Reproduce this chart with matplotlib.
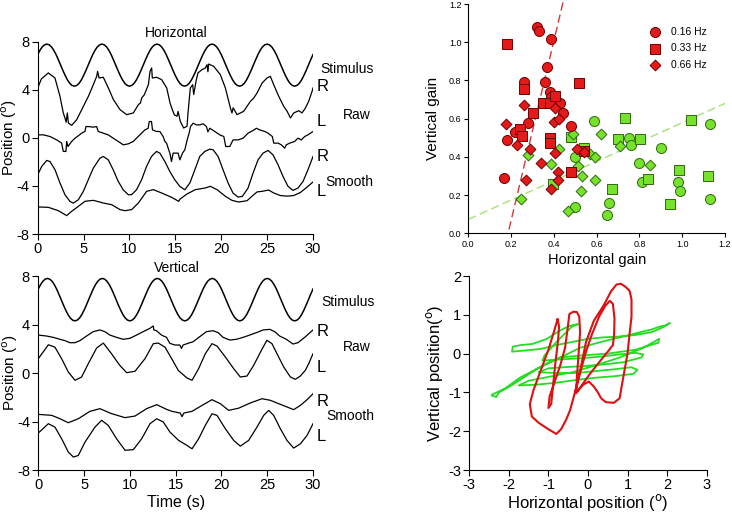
import numpy as np
import matplotlib
matplotlib.use("Agg")
import matplotlib.pyplot as plt

plt.rcParams['font.family'] = ['Liberation Sans', 'DejaVu Sans']
plt.rcParams['axes.unicode_minus'] = False

# ---- stimulus (same target in both panels), read every 0.25 s
stim_t = np.arange(121) * 0.25
stim_v = [6.93, 7.29, 7.57, 7.74, 7.80, 7.74, 7.57, 7.29, 6.93, 6.50, 6.05, 5.60, 5.18, 4.81, 4.53, 4.36, 4.30, 4.36, 4.53, 4.81, 5.18, 5.60, 6.05, 6.50,
          6.93, 7.29, 7.57, 7.74, 7.80, 7.74, 7.57, 7.29, 6.93, 6.50, 6.05, 5.60, 5.18, 4.81, 4.53, 4.36, 4.30, 4.36, 4.53, 4.81, 5.18, 5.60, 6.05, 6.50,
          6.93, 7.29, 7.57, 7.74, 7.80, 7.74, 7.57, 7.29, 6.93, 6.50, 6.05, 5.60, 5.18, 4.81, 4.53, 4.36, 4.30, 4.36, 4.53, 4.81, 5.18, 5.60, 6.05, 6.50,
          6.93, 7.29, 7.57, 7.74, 7.80, 7.74, 7.57, 7.29, 6.93, 6.50, 6.05, 5.60, 5.18, 4.81, 4.53, 4.36, 4.30, 4.36, 4.53, 4.81, 5.18, 5.60, 6.05, 6.50,
          6.93, 7.29, 7.57, 7.74, 7.80, 7.74, 7.57, 7.29, 6.93, 6.50, 6.05, 5.60, 5.18, 4.81, 4.53, 4.36, 4.30, 4.36, 4.53, 4.81, 5.18, 5.60, 6.05, 6.50,
          6.93]

# ---- horizontal eye position traces (offset for display)
h_raw_r_t = [0, 0.4, 1.16, 1.88, 2.43, 2.79, 2.97, 3.1, 3.23, 3.34, 3.7, 4.25, 4.8, 5.16, 5.52, 6.06, 6.43, 6.53, 6.68, 7.15,
             7.7, 8.25, 8.97, 9.69, 10.42, 10.97, 11.2, 11.33, 11.62, 12.06, 12.24, 12.42, 12.49, 12.97, 13.51, 14.06, 14.42, 14.67,
             14.9, 15.18, 15.3, 15.54, 15.9, 16.27, 16.38, 16.63, 16.89, 17.0, 17.25, 17.46, 17.9, 18.27, 18.45, 18.55, 18.63, 19.18,
             19.9, 20.45, 21.0, 21.17, 21.3, 21.72, 22.45, 23.18, 23.54, 23.9, 24.45, 24.99, 25.35, 25.72, 26.27, 26.81, 27.18,
             27.54, 27.9, 28.44, 28.8, 29.17, 29.53, 29.9, 30.0]
h_raw_r_v = [4.15, 4.9, 5.40, 4.98, 3.45, 2.07, 1.65, 1.3, 2.07, 1.24, 1.04, 1.51, 2.35, 2.90, 3.45, 4.42, 5.12, 5.53, 4.98, 5.04,
             4.15, 3.18, 2.35, 1.93, 2.07, 2.76, 2.9, 3.31, 3.59, 4.42, 5.53, 5.81, 4.98, 5.04, 4.84, 4.15, 2.90, 2.35,
             1.9, 1.8, 2.2, 1.37, 0.82, 0.96, 2.07, 4.15, 4.42, 3.6, 4.70, 5.40, 5.67, 5.81, 6.09, 5.5, 6.14, 5.95,
             5.26, 4.15, 2.48, 2.07, 2.5, 1.93, 2.21, 3.04, 3.31, 3.73, 4.56, 4.98, 5.12, 4.42, 3.45, 2.62, 2.21,
             1.65, 2.07, 2.26, 2.07, 2.48, 3.04, 3.87, 4.15]

h_raw_l_t = [0, 0.62, 1.34, 2.07, 2.61, 2.79, 3.08, 3.16, 3.3, 3.7, 4.06, 4.43, 4.79, 5.15, 5.26, 5.51, 6.06, 6.42, 6.6, 7.15,
             7.69, 8.23, 8.78, 9.32, 9.87, 10.41, 10.95, 11.32, 11.68, 12.04, 12.15, 12.4, 12.51, 12.95, 13.31, 13.67, 13.86,
             14.04, 14.22, 14.4, 14.58, 14.76, 15.3, 15.49, 15.78, 16.03, 16.29, 16.5, 16.65, 16.94, 17.3, 17.66, 18.03, 18.39,
             18.55, 18.75, 19.3, 19.84, 20.28, 20.49, 20.93, 21.29, 21.84, 22.38, 22.92, 23.47, 23.83, 24.19, 24.74, 25.1, 25.57,
             25.72, 26.19, 26.55, 26.91, 27.09, 27.46, 28.0, 28.36, 28.73, 29.09, 29.45, 30.0]
h_raw_l_v = [0.25, 0.25, 0.11, -0.17, -0.44, -1.13, -1.13, -0.3, -0.72, -0.3, -0.03, 0.17, 0.39, 0.53, 0.94, 0.94, 0.89, 0.94, 0.53, 0.39,
             0.25, -0.03, -0.3, -0.58, -0.5, -0.3, 0.11, 0.39, 0.66, 0.8, 1.36, 1.36, 0.66, 0.53, 0.53, 0.11, -0.3,
             -0.44, -0.86, -1.27, -1.97, -1.27, -1.27, -1.83, -1.27, -1.0, -0.17, 0.39, 0.94, 1.22, 1.08, 1.08, 1.17, 0.94,
             0.5, 0.8, 0.53, 0.25, 0.11, -0.72, -0.72, -0.17, -0.17, -0.03, 0.39, 0.61, 0.8, 0.66, 0.53, 0.39, 0.11,
             -0.44, -0.44, -0.58, -0.86, -0.58, -0.44, -0.3, -0.03, -0.17, 0.11, 0.25, 0.53]

h_sm_r_t = [0, 0.44, 0.98, 1.34, 1.89, 2.43, 2.97, 3.52, 3.88, 4.43, 4.97, 5.51, 6.06, 6.78, 7.15, 7.69, 8.23, 8.78, 9.32, 9.87,
            10.23, 10.77, 11.32, 11.86, 12.4, 12.95, 13.31, 13.86, 14.4, 14.94, 15.49, 16.03, 16.58, 17.12, 17.66, 18.21, 18.75,
            19.12, 19.66, 20.2, 20.75, 21.29, 21.84, 22.3, 22.92, 23.47, 24.01, 24.56, 25.1, 25.64, 26.19, 26.73, 27.28, 27.82,
            28.36, 28.91, 29.45, 30.0]
h_sm_r_v = [-3.07, -2.38, -1.88, -1.97, -2.66, -3.76, -4.73, -5.29, -5.43, -5.15, -4.46, -3.49, -2.52, -1.69, -1.55, -1.83, -2.66, -3.63, -4.32, -4.73,
            -4.73, -4.32, -3.49, -2.38, -1.55, -1.13, -1.27, -1.97, -2.8, -3.49, -4.04, -4.32, -3.76, -2.66, -1.55, -1.13, -0.94,
            -1.0, -1.55, -2.66, -3.76, -4.6, -4.93, -4.87, -4.18, -2.93, -1.83, -1.27, -1.05, -1.41, -2.24, -3.21, -4.04, -4.37,
            -4.18, -3.63, -2.66, -1.55]

h_sm_l_t = [0, 1.16, 2.25, 3.16, 3.7, 4.43, 5.15, 6.06, 7.15, 8.06, 8.97, 9.52, 10.24, 10.97, 11.87, 12.6, 13.51, 14.6, 15.36, 15.5,
            16.27, 17.18, 18.27, 18.81, 19.54, 20.45, 21.17, 21.9, 22.81, 23.35, 23.9, 24.44, 25.17, 25.72, 26.44, 27.17, 27.9,
            28.62, 29.35, 30.0]
h_sm_l_v = [-5.75, -5.78, -6.06, -6.47, -6.11, -5.70, -5.28, -5.20, -5.42, -5.56, -5.97, -6.06, -5.97, -5.42, -4.45, -4.31, -4.59, -4.95, -5.28, -5.1,
            -4.67, -4.31, -4.17, -4.03, -4.31, -4.86, -5.20, -5.34, -5.23, -4.86, -4.50, -4.45, -4.34, -4.59, -4.80, -4.85, -4.80,
            -4.55, -4.10, -3.67]

# ---- vertical eye position traces
v_raw_r_t = [0, 0.91, 1.64, 2.36, 2.91, 3.45, 4.0, 4.55, 5.27, 6.0, 6.73, 7.27, 7.82, 8.55, 9.27, 10.0, 10.73, 11.45, 12.18, 12.55,
             12.62, 12.91, 13.45, 14.0, 14.36, 14.91, 15.45, 15.64, 15.82, 16.36, 16.91, 17.64, 18.36, 19.09, 19.64, 20.18, 20.91,
             21.64, 22.36, 23.09, 23.82, 24.55, 25.27, 25.82, 26.36, 27.09, 27.82, 28.36, 29.09, 30.0]
v_raw_r_v = [3.13, 3.05, 2.94, 2.78, 2.67, 2.5, 2.5, 2.67, 3.05, 3.41, 3.55, 3.41, 3.13, 2.94, 2.78, 2.86, 3.13, 3.41, 3.68, 3.88,
             3.55, 3.49, 3.13, 2.94, 2.45, 2.31, 2.31, 2.03, 2.31, 2.45, 2.58, 3.0, 3.41, 3.49, 3.33, 2.94, 2.72,
             2.78, 2.94, 3.13, 3.33, 3.55, 3.6, 3.41, 3.05, 2.78, 2.39, 2.5, 2.94, 3.55]

v_raw_l_t = [0, 1.1, 1.82, 2.55, 3.28, 4.01, 4.73, 5.46, 6.37, 7.1, 8.0, 8.9, 9.65, 10.56, 11.65, 12.56, 13.1, 13.84, 14.57, 15.3,
             16.24, 16.79, 17.51, 18.24, 18.97, 19.52, 20.43, 21.34, 22.06, 22.79, 23.52, 24.36, 24.97, 25.52, 26.07, 26.8, 27.53,
             28.07, 28.62, 29.16, 29.53, 30.0]
v_raw_l_v = [1.18, 2.33, 2.13, 1.18, 0.08, -0.6, -0.33, 0.77, 2.06, 2.47, 1.59, 0.63, 0.03, 0.14, 1.18, 2.42, 2.47, 2.13, 1.18, 0.2,
             -0.41, -0.6, 0.36, 1.59, 2.42, 2.22, 1.32, 0.36, -0.33, -0.25, 0.63, 1.87, 2.7, 2.42, 1.59, 0.5, -0.33,
             -0.52, -0.25, 0.22, 0.77, 1.59]

v_sm_r_t = [0, 1.46, 2.37, 3.28, 4.37, 5.64, 6.73, 8.0, 9.47, 10.56, 11.83, 12.93, 14.02, 14.6, 15.5, 15.7, 15.9, 16.79, 17.88,
            18.97, 19.88, 20.79, 21.88, 23.15, 24.43, 25.34, 26.25, 27.16, 27.89, 28.62, 29.35, 30.0]
v_sm_r_v = [-3.41, -3.49, -3.77, -4.1, -3.77, -3.16, -2.94, -3.35, -3.68, -3.55, -2.94, -2.61, -3.0, -3.16, -3.3, -3.6, -3.3, -3.16, -2.67,
            -2.2, -2.53, -3.08, -2.9, -2.47, -2.12, -2.25, -2.53, -2.8, -3.02, -2.67, -2.2, -1.71]

v_sm_l_t = [0, 1.1, 1.82, 2.55, 3.28, 3.83, 4.37, 5.1, 6.19, 6.92, 7.64, 8.55, 9.47, 10.38, 11.29, 12.2, 12.93, 13.65, 14.38, 15.33,
            16.24, 16.79, 17.51, 18.24, 18.97, 19.52, 20.43, 21.34, 22.06, 22.97, 23.88, 24.61, 25.16, 25.71, 26.44, 27.16, 27.89,
            28.62, 29.35, 30.0]
v_sm_l_v = [-4.95, -4.18, -4.46, -5.42, -6.52, -6.93, -6.8, -5.7, -4.46, -3.9, -4.32, -5.42, -6.37, -6.32, -5.42, -4.18, -3.77, -4.04, -4.87, -5.56,
            -5.97, -6.25, -5.42, -4.32, -3.36, -3.5, -4.6, -5.56, -6.03, -5.56, -4.46, -3.5, -3.08, -3.5, -4.6, -5.56, -6.19,
            -5.84, -5.15, -4.18]

# ---- gain scatter (red: vertical-dominant, green: horizontal-dominant)
red_c_x = [0.321, 0.332, 0.388, 0.368, 0.36, 0.259, 0.381, 0.388, 0.430, 0.441, 0.279, 0.220, 0.181, 0.168, 0.480]
red_c_y = [1.081, 1.059, 1.018, 0.869, 0.792, 0.790, 0.741, 0.712, 0.680, 0.628, 0.579, 0.528, 0.488, 0.291, 0.561]
red_s_x = [0.181, 0.259, 0.243, 0.251, 0.301, 0.349, 0.383, 0.404, 0.381, 0.381, 0.519, 0.480, 0.54]
red_s_y = [0.992, 0.754, 0.544, 0.509, 0.631, 0.683, 0.683, 0.720, 0.497, 0.471, 0.785, 0.322, 0.43]
red_d_x = [0.178, 0.259, 0.228, 0.290, 0.340, 0.270, 0.399, 0.423, 0.407, 0.407, 0.421, 0.421, 0.388, 0.508, 0.540]
red_d_y = [0.570, 0.670, 0.460, 0.443, 0.369, 0.279, 0.582, 0.598, 0.654, 0.419, 0.321, 0.279, 0.230, 0.443, 0.427]
grn_c_x = [0.589, 0.500, 0.500, 0.750, 0.761, 0.901, 0.800, 0.811, 0.979, 0.991, 1.130, 1.130, 0.659, 0.648]
grn_c_y = [0.589, 0.398, 0.139, 0.500, 0.460, 0.448, 0.370, 0.270, 0.270, 0.221, 0.570, 0.180, 0.157, 0.097]
grn_s_x = [0.480, 0.542, 0.733, 0.700, 0.801, 1.043, 0.842, 0.984, 1.122, 0.670, 0.943, 0.396]
grn_s_y = [0.504, 0.445, 0.602, 0.492, 0.492, 0.593, 0.283, 0.331, 0.301, 0.232, 0.152, 0.260]
grn_d_x = [0.279, 0.248, 0.388, 0.423, 0.489, 0.513, 0.532, 0.528, 0.466, 0.570, 0.594, 0.592, 0.622, 0.709, 0.849]
grn_d_y = [0.408, 0.178, 0.361, 0.441, 0.518, 0.354, 0.300, 0.221, 0.118, 0.415, 0.399, 0.279, 0.521, 0.458, 0.359]
red_fit_x = [0.19, 0.445]
red_fit_y = [0.02, 1.22]
grn_fit_x = [0.0, 1.2]
grn_fit_y = [0.073, 0.68]
freq_labels = ['0.16 Hz', '0.33 Hz', '0.66 Hz']

# ---- 2D eye position loops
red_loop_x = [-0.77, -0.85, -1.0, -1.2, -1.38, -1.47, -1.42, -1.25, -1.0, -0.80, -0.68, -0.55, -0.45, -0.37, -0.33,
              -0.18, -0.05, 0.15, 0.40, 0.58, 0.72, 0.83, 0.95, 1.05, 1.10, 1.10, 1.05, 1.00, 0.92, 0.85, 0.80, 0.65, 0.45,
              0.33, 0.25, 0.15, 0.02, -0.12, -0.25, -0.32,
              -0.20, -0.05, 0.10, 0.28, 0.43, 0.55, 0.63, 0.67, 0.66, 0.63, 0.50, 0.30, 0.05, -0.18, -0.30,
              -0.28, -0.24, -0.20, -0.22, -0.28, -0.37, -0.47, -0.52, -0.58, -0.70, -0.85, -0.97, -1.00, -0.93,
              -0.88, -0.82, -0.76, -0.73, -0.75, -0.77]
red_loop_y = [0.88, 0.6, 0.1, -0.45, -0.95, -1.3, -1.62, -1.78, -1.95, -2.07, -1.95, -1.70, -1.45, -1.15, -1.0,
              -0.35, 0.30, 0.85, 1.25, 1.60, 1.78, 1.80, 1.72, 1.62, 1.40, 0.95, 0.50, 0.0, -0.45, -0.85, -1.15, -1.27, -1.25,
              -1.15, -1.0, -0.85, -0.72, -0.80, -0.95, -1.0,
              -0.50, 0.05, 0.50, 0.95, 1.22, 1.36, 1.28, 0.90, 0.50, 0.22, 0.05, -0.20, -0.52, -0.85, -1.02,
              -0.60, -0.05, 0.55, 0.95, 1.07, 1.08, 1.02, 0.60, 0.15, -0.30, -0.75, -1.10, -1.40, -1.30,
              -0.80, -0.20, 0.30, 0.70, 0.80, 0.88]
grn_loop_x = [-2.43, -2.10, -1.72, -1.40, -1.04, -0.60, -0.20, 0.25, 0.64, 1.00, 1.31, 1.60, 1.82, 1.95, 2.07,
              1.90, 1.60, 1.20, 0.80, 0.40, 0.00, -0.40, -0.80, -1.20, -1.60, -1.92, -1.90, -1.70,
              -1.40, -1.04, -0.70, -0.45, -0.25, -0.40,
              -0.80, -1.10, -1.15, -0.70, -0.20, 0.30, 0.80, 1.20, 1.40, 1.35,
              0.90, 0.40, -0.10, -0.60, -1.00, -1.25,
              -0.80, -0.30, 0.20, 0.70, 1.10, 1.25, 1.15,
              0.70, 0.20, -0.30, -0.80, -1.30, -1.75, -1.50,
              -1.00, -0.40, 0.20, 0.80, 1.40, 1.80, 1.78,
              1.20, 0.50, -0.20, -0.70, -1.30, -1.90, -2.25, -2.32, -2.43]
grn_loop_y = [-1.06, -0.90, -0.62, -0.45, -0.25, -0.05, 0.15, 0.28, 0.38, 0.47, 0.55, 0.62, 0.70, 0.72, 0.79,
              0.68, 0.55, 0.48, 0.44, 0.42, 0.38, 0.30, 0.22, 0.12, 0.08, 0.05, 0.18, 0.22,
              0.25, 0.38, 0.60, 0.72, 0.76, 0.70,
              0.30, -0.05, -0.18, -0.15, -0.12, -0.08, -0.02, 0.02, -0.02, -0.10,
              -0.22, -0.28, -0.32, -0.35, -0.38, -0.48,
              -0.50, -0.50, -0.45, -0.40, -0.35, -0.42, -0.52,
              -0.58, -0.62, -0.68, -0.75, -0.80, -0.82, -0.70,
              -0.60, -0.48, -0.30, -0.10, 0.15, 0.38, 0.28,
              0.10, 0.00, -0.05, -0.10, -0.40, -0.80, -1.00, -1.12, -1.08]


def style_axes(ax, labelsize):
    for side in ['top', 'right']:
        ax.spines[side].set_visible(False)
    ax.tick_params(direction='out', length=4, width=0.8, labelsize=labelsize, pad=2)


def trace_panel(ax, traces, title, labels):
    ax.plot(stim_t, stim_v, color='black', lw=1.1)
    for t, v in traces:
        ax.plot(t, v, color='black', lw=0.9)
    ax.set_xlim(0, 30)
    ax.set_ylim(-8, 8)
    ax.set_xticks(range(0, 31, 5))
    ax.set_yticks([-8, -4, 0, 4, 8])
    style_axes(ax, 10.5)
    ax.set_ylabel(r'Position ($^{\mathrm{o}}$)', fontsize=11)
    ax.yaxis.set_label_coords(-0.068, 0.5)
    ax.text(15.1, 8.7, title, ha='center', va='center', fontsize=10)
    for x, y, s, fs in labels:
        ax.text(x, y, s, ha='left', va='center', fontsize=fs, clip_on=False)


fig = plt.figure(figsize=(7.32, 5.16), dpi=100)

ax1 = fig.add_axes([0.0515, 0.5465, 0.3761, 0.3727])
trace_panel(ax1, [(h_raw_r_t, h_raw_r_v), (h_raw_l_t, h_raw_l_v), (h_sm_r_t, h_sm_r_v), (h_sm_l_t, h_sm_l_v)],
            'Horizontal',
            [(30.84, 5.73, 'Stimulus', 10), (30.4, 4.31, 'R', 12), (33.27, 1.9, 'Raw', 10), (30.4, 1.34, 'L', 12),
             (30.4, -1.57, 'R', 12), (31.3, -3.65, 'Smooth', 10), (30.4, -4.48, 'L', 12)])

ax2 = fig.add_axes([0.0523, 0.0891, 0.3753, 0.376])
trace_panel(ax2, [(v_raw_r_t, v_raw_r_v), (v_raw_l_t, v_raw_l_v), (v_sm_r_t, v_sm_r_v), (v_sm_l_t, v_sm_l_v)],
            'Vertical',
            [(30.95, 5.88, 'Stimulus', 10), (30.4, 3.41, 'R', 12), (33.27, 2.17, 'Raw', 10), (30.4, 0.47, 'L', 12),
             (30.4, -2.37, 'R', 12), (31.5, -3.52, 'Smooth', 10), (30.4, -5.25, 'L', 12)])
ax2.set_xlabel('Time (s)', fontsize=11.5, labelpad=2)

# gain scatter
ax3 = fig.add_axes([0.6398, 0.5479, 0.3507, 0.4443])
red, red_edge = '#e41a1a', '#6e0000'
grn, grn_edge = '#76e22c', '#2f6a10'
ax3.plot(red_fit_x, red_fit_y, color='#d03a3a', lw=1.0, dashes=(6, 3), clip_on=False)
ax3.plot(grn_fit_x, grn_fit_y, color='#a6e27a', lw=1.0, dashes=(6, 3))
ax3.scatter(grn_c_x, grn_c_y, s=52, marker='o', c=grn, edgecolors=grn_edge, linewidths=0.7, zorder=3)
ax3.scatter(grn_s_x, grn_s_y, s=42, marker='s', c=grn, edgecolors=grn_edge, linewidths=0.7, zorder=3)
ax3.scatter(grn_d_x, grn_d_y, s=30, marker='D', c=grn, edgecolors=grn_edge, linewidths=0.7, zorder=3)
h1 = ax3.scatter(red_c_x, red_c_y, s=52, marker='o', c=red, edgecolors=red_edge, linewidths=0.7, zorder=4)
h2 = ax3.scatter(red_s_x, red_s_y, s=42, marker='s', c=red, edgecolors=red_edge, linewidths=0.7, zorder=4)
h3 = ax3.scatter(red_d_x, red_d_y, s=30, marker='D', c=red, edgecolors=red_edge, linewidths=0.7, zorder=4)
ax3.set_xlim(0, 1.2)
ax3.set_ylim(0, 1.2)
ax3.set_xticks(np.arange(0, 1.21, 0.2))
ax3.set_yticks(np.arange(0, 1.21, 0.2))
ax3.xaxis.set_major_formatter(matplotlib.ticker.FormatStrFormatter('%.1f'))
ax3.yaxis.set_major_formatter(matplotlib.ticker.FormatStrFormatter('%.1f'))
style_axes(ax3, 6.5)
ax3.tick_params(length=3)
ax3.set_xlabel('Horizontal gain', fontsize=10.5, labelpad=3)
ax3.set_ylabel('Vertical gain', fontsize=11, labelpad=6)
ax3.legend([h1, h2, h3], freq_labels, loc='upper left', bbox_to_anchor=(0.65, 0.94), frameon=False,
           fontsize=7.5, handletextpad=0.5, labelspacing=0.6, scatterpoints=1)

# 2D position loops
ax4 = fig.add_axes([0.6411, 0.0891, 0.3243, 0.376])
ax4.plot(grn_loop_x, grn_loop_y, color='#22dd22', lw=1.3)
ax4.plot(red_loop_x, red_loop_y, color='#dd1111', lw=1.5)
ax4.set_xlim(-3, 3)
ax4.set_ylim(-3, 2)
ax4.set_xticks(range(-3, 4))
ax4.set_yticks(range(-3, 3))
style_axes(ax4, 10.5)
ax4.set_xlabel(r'Horizontal position ($^{\mathrm{o}}$)', fontsize=12, labelpad=0)
ax4.set_ylabel(r'Vertical position($^{\mathrm{o}}$)', fontsize=12, labelpad=2)

fig.savefig('out.png', dpi=100)
